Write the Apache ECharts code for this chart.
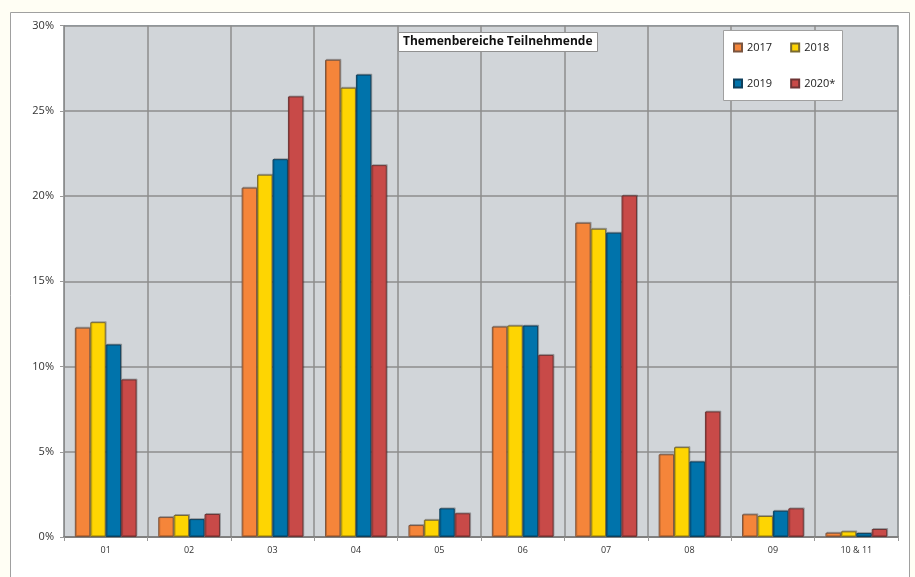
<!DOCTYPE html>
<html>
<head>
<meta charset="utf-8">
<script src="https://cdn.jsdelivr.net/npm/echarts@6/dist/echarts.min.js"></script>
<style>
html,body{margin:0;padding:0;background:#FFFEF4;}
#main{width:915px;height:577px;}
</style>
</head>
<body>
<div id="main"></div>
<script>
const categories = ['01','02','03','04','05','06','07','08','09','10 & 11'];
const seriesNames = ['2017','2018','2019','2020*'];
const values2017 = [12.28, 1.17, 20.49, 27.99, 0.70, 12.34, 18.43, 4.85, 1.33, 0.25];
const values2018 = [12.60, 1.29, 21.25, 26.35, 1.01, 12.40, 18.08, 5.27, 1.23, 0.33];
const values2019 = [11.29, 1.05, 22.16, 27.12, 1.68, 12.40, 17.85, 4.43, 1.54, 0.23];
const values2020 = [9.24, 1.35, 25.84, 21.81, 1.39, 10.68, 20.03, 7.36, 1.68, 0.47];
const yTicks = [0, 5, 10, 15, 20, 25, 30];
const colors = ['#F5853A', '#FED502', '#0073AB', '#C84A48'];
const borders = ['#7A5540', '#7A6A30', '#0E3F5C', '#6E3434'];
const titleText = 'Themenbereiche Teilnehmende';

const allValues = [values2017, values2018, values2019, values2020];
const chart = echarts.init(document.getElementById('main'));
const font = '"Open Sans", "Noto Sans", sans-serif';

const series = seriesNames.map((n, i) => ({
  name: n,
  type: 'bar',
  data: allValues[i],
  barGap: '0%',
  barCategoryGap: '26%',
  itemStyle: {
    color: colors[i],
    borderColor: borders[i],
    borderWidth: 1,
    shadowColor: 'rgba(0,0,0,0.2)',
    shadowOffsetX: 1,
    shadowOffsetY: -1,
    shadowBlur: 0
  },
  emphasis: {disabled: true}
}));

const legendCommon = {
  left: 728, itemWidth: 8, itemHeight: 8, itemGap: 18, z: 20, icon: 'rect',
  textStyle: {fontSize: 11, color: '#222', fontFamily: font}
};

chart.setOption({
  animation: false,
  backgroundColor: 'transparent',
  textStyle: {fontFamily: font},
  graphic: [
    {type: 'rect', z: -10, shape: {x: 10.5, y: 12.5, width: 899, height: 600},
      style: {fill: '#FFFFFF', stroke: '#A0A0A0', lineWidth: 1}},
    {type: 'rect', z: 10, shape: {x: 723.5, y: 30.5, width: 119, height: 70},
      style: {fill: '#FFFFFF', stroke: '#A0A0A0', lineWidth: 1}}
  ],
  title: {
    text: titleText,
    left: 398, top: 32,
    backgroundColor: '#FFFFFF',
    borderColor: '#909090',
    borderWidth: 1,
    padding: [4, 5, 4, 5],
    textStyle: {fontSize: 12, fontWeight: 'bold', color: '#111', fontFamily: font}
  },
  legend: [
    Object.assign({data: ['2017', '2018'], top: 37}, legendCommon),
    Object.assign({data: ['2019', '2020*'], top: 73}, legendCommon)
  ],
  grid: {
    left: 64, right: 17, top: 25.5, bottom: 40,
    show: true, backgroundColor: '#D1D5D9', borderColor: '#9DB4C2', borderWidth: 1
  },
  xAxis: {
    type: 'category',
    data: categories,
    axisLine: {show: true, lineStyle: {color: '#808080', width: 2}},
    axisTick: {show: true, length: 4, lineStyle: {color: '#999'}},
    splitLine: {show: true, lineStyle: {color: '#8C8C8C', width: 1.5}},
    axisLabel: {fontSize: 9, color: '#333', margin: 9, fontFamily: font}
  },
  yAxis: {
    type: 'value',
    min: 0, max: 30, interval: 5,
    axisLine: {show: true, lineStyle: {color: '#8C8C8C', width: 1}},
    axisTick: {show: true, length: 4, lineStyle: {color: '#999'}},
    splitLine: {show: true, lineStyle: {color: '#8C8C8C', width: 1.5}},
    axisLabel: {fontSize: 11, color: '#333', margin: 10, fontFamily: font,
      formatter: v => (yTicks.indexOf(v) >= 0 ? v + '%' : '')}
  },
  series: series
});
</script>
</body>
</html>
